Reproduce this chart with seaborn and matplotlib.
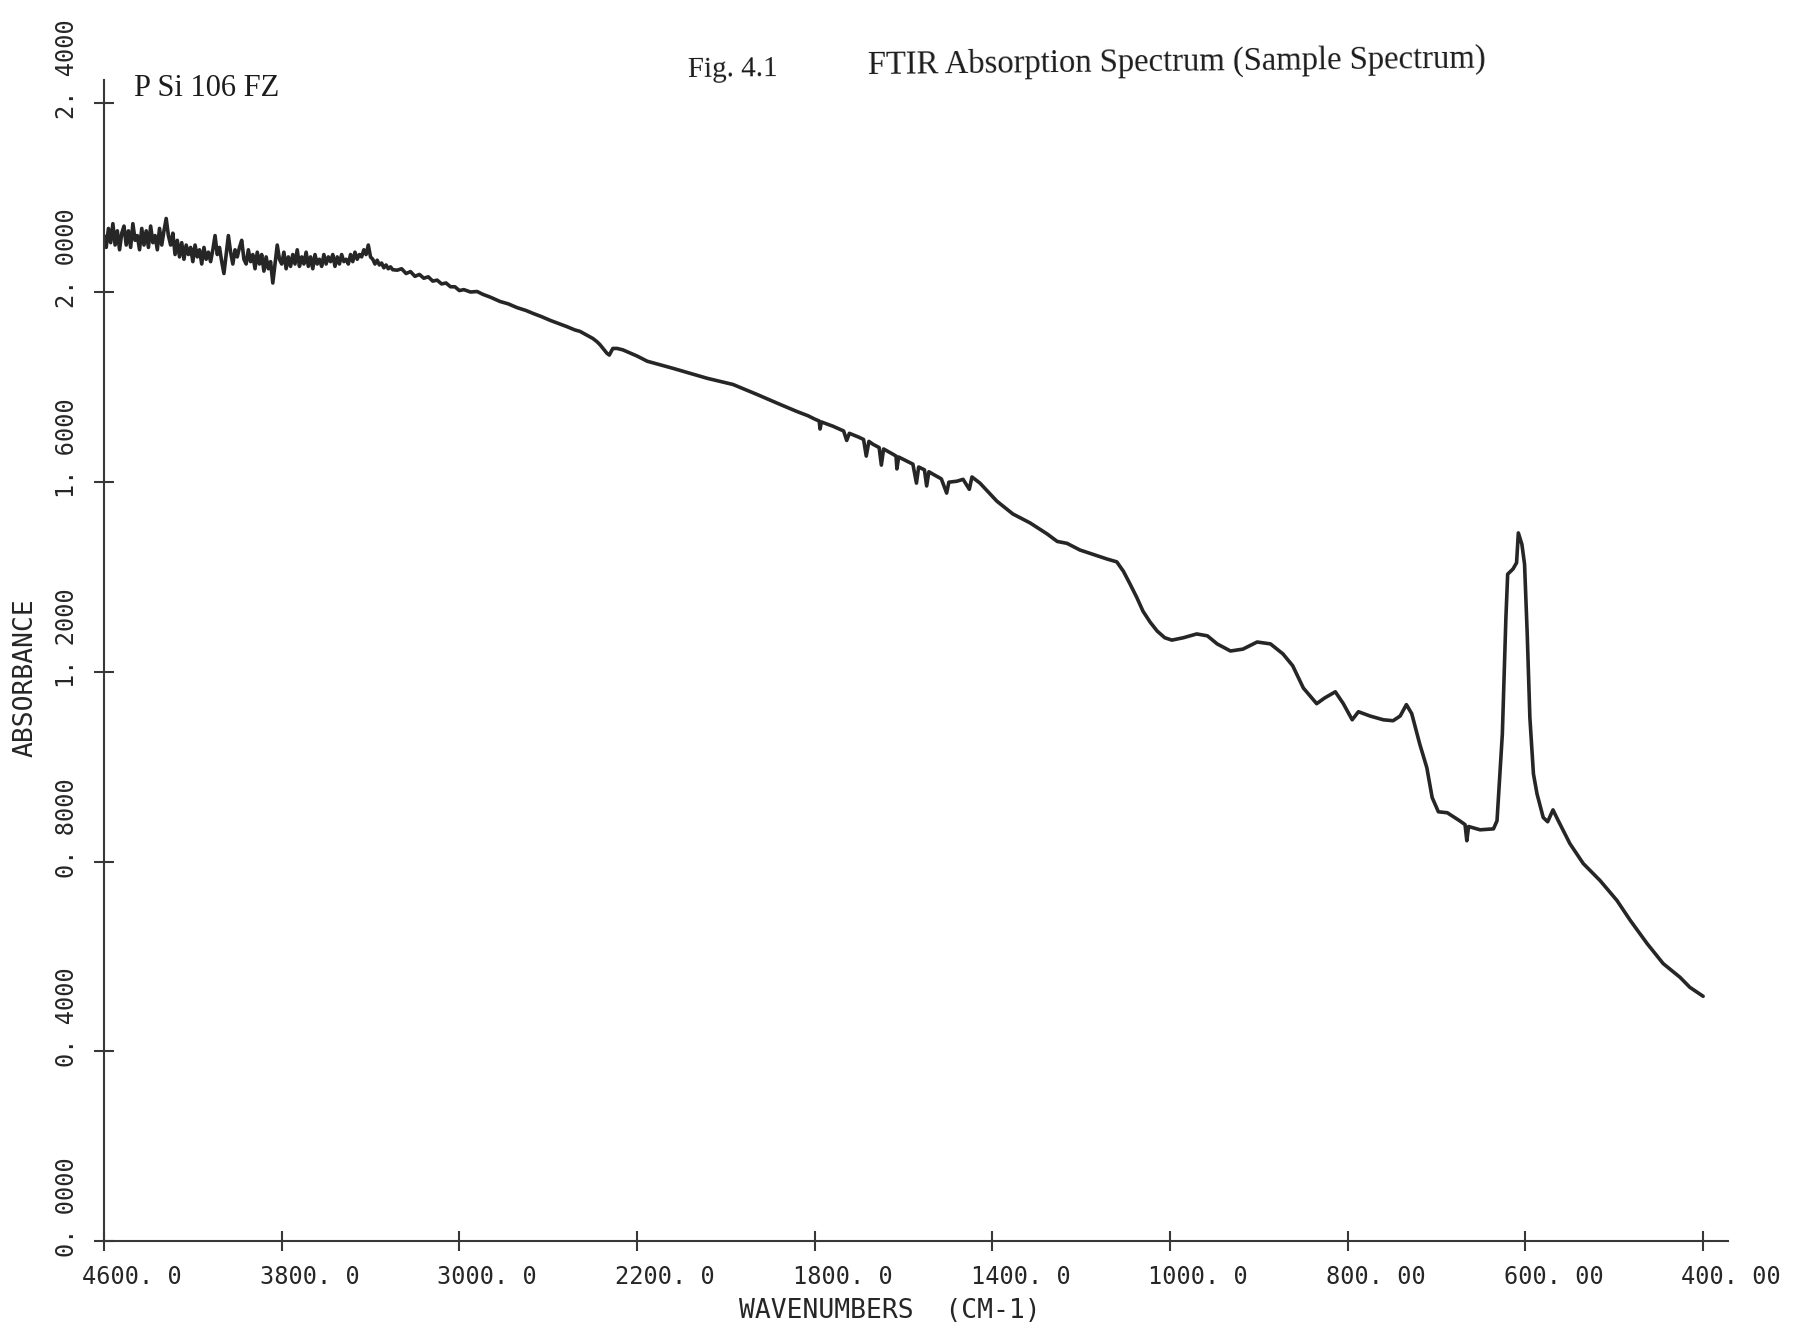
import numpy as np
import pandas as pd
import matplotlib
matplotlib.use("Agg")
import matplotlib.pyplot as plt
from matplotlib.transforms import ScaledTranslation
import seaborn as sns

# FTIR absorption spectrum, P Si 106 FZ sample (wavenumber in cm-1, absorbance)
# noisy high-wavenumber stretch, 10 cm-1 spacing
noisy_wavenumber = [
    4600, 4590, 4580, 4570, 4560, 4550, 4540, 4530, 4520, 4510,
    4500, 4490, 4480, 4470, 4460, 4450, 4440, 4430, 4420, 4410,
    4400, 4390, 4380, 4370, 4360, 4350, 4340, 4330, 4320, 4310,
    4300, 4290, 4280, 4270, 4260, 4250, 4240, 4230, 4220, 4210,
    4200, 4190, 4180, 4170, 4160, 4150, 4140, 4130, 4120, 4110,
    4100, 4090, 4080, 4070, 4060, 4050, 4040, 4030, 4020, 4010,
    4000, 3990, 3980, 3970, 3960, 3950, 3940, 3930, 3920, 3910,
    3900, 3890, 3880, 3870, 3860, 3850, 3840, 3830, 3820, 3810,
    3800, 3790, 3780, 3770, 3760, 3750, 3740, 3730, 3720, 3710,
    3700, 3690, 3680, 3670, 3660, 3650, 3640, 3630, 3620, 3610,
    3600, 3590, 3580, 3570, 3560, 3550, 3540, 3530, 3520, 3510,
    3500, 3490, 3480, 3470, 3460, 3450, 3440, 3430, 3420, 3410,
    3400, 3390, 3380, 3370, 3360, 3350, 3340, 3330, 3320, 3310,
    3300,
]
noisy_absorbance = [
    2.120, 2.095, 2.135, 2.105, 2.145, 2.100, 2.130, 2.090, 2.125, 2.140,
    2.100, 2.130, 2.095, 2.145, 2.110, 2.120, 2.090, 2.135, 2.100, 2.130,
    2.095, 2.140, 2.105, 2.120, 2.090, 2.135, 2.100, 2.130, 2.156, 2.120,
    2.100, 2.125, 2.080, 2.110, 2.075, 2.105, 2.070, 2.100, 2.080, 2.095,
    2.065, 2.100, 2.075, 2.090, 2.060, 2.095, 2.070, 2.085, 2.065, 2.090,
    2.120, 2.080, 2.095, 2.065, 2.040, 2.080, 2.120, 2.085, 2.060, 2.090,
    2.075, 2.095, 2.110, 2.070, 2.060, 2.090, 2.065, 2.080, 2.050, 2.085,
    2.060, 2.080, 2.045, 2.075, 2.050, 2.065, 2.020, 2.060, 2.100, 2.070,
    2.060, 2.085, 2.050, 2.075, 2.055, 2.080, 2.060, 2.090, 2.055, 2.075,
    2.060, 2.085, 2.055, 2.075, 2.050, 2.080, 2.060, 2.070, 2.055, 2.080,
    2.060, 2.075, 2.065, 2.080, 2.055, 2.075, 2.060, 2.080, 2.065, 2.070,
    2.060, 2.080, 2.065, 2.085, 2.070, 2.080, 2.075, 2.090, 2.080, 2.100,
    2.075, 2.070, 2.060, 2.068, 2.058, 2.062, 2.052, 2.058, 2.050, 2.054,
    2.048,
]
# remainder of the spectrum down to 400 cm-1
smooth_wavenumber = [
    3280, 3260, 3240, 3220, 3200, 3180, 3160, 3140, 3120, 3100,
    3080, 3060, 3040, 3020, 3000, 2980, 2950, 2920, 2894, 2860,
    2817, 2780, 2740, 2700, 2669, 2630, 2590, 2550, 2516, 2480,
    2457, 2430, 2399, 2380, 2367, 2350, 2336, 2325, 2309, 2290,
    2264, 2230, 2200, 2177, 2119, 2042, 1984, 1930, 1878, 1840,
    1815, 1800, 1790, 1788, 1785, 1759, 1735, 1728, 1722, 1701,
    1690, 1684, 1678, 1669, 1655, 1650, 1645, 1624, 1617, 1615,
    1611, 1590, 1579, 1571, 1566, 1553, 1548, 1543, 1534, 1515,
    1503, 1498, 1480, 1466, 1452, 1446, 1428, 1390, 1354, 1315,
    1277, 1254, 1232, 1203, 1174, 1142, 1120, 1105, 1090, 1075,
    1061, 1045, 1029, 1012, 998, 985, 970, 958, 947, 932,
    918, 902, 887, 873, 862, 850, 835, 826, 814, 805,
    795, 788, 775, 760, 749, 741, 734, 728, 719, 711,
    705, 698, 688, 674, 668, 666, 664, 651, 636, 632,
    626, 622, 620, 614, 610, 608, 604, 601, 598, 595,
    591, 587, 580, 575, 569, 563, 550, 535, 516, 497,
    482, 463, 445, 426, 415, 400,
]
smooth_absorbance = [
    2.047, 2.050, 2.040, 2.044, 2.034, 2.038, 2.030, 2.033, 2.024, 2.026,
    2.018, 2.020, 2.012, 2.012, 2.004, 2.006, 2.001, 2.002, 1.996, 1.990,
    1.981, 1.976, 1.968, 1.962, 1.956, 1.949, 1.941, 1.934, 1.928, 1.921,
    1.918, 1.911, 1.903, 1.896, 1.890, 1.880, 1.872, 1.868, 1.882, 1.882,
    1.879, 1.872, 1.866, 1.855, 1.840, 1.819, 1.806, 1.785, 1.764, 1.749,
    1.740, 1.733, 1.729, 1.712, 1.727, 1.718, 1.708, 1.688, 1.703, 1.695,
    1.690, 1.655, 1.686, 1.680, 1.673, 1.636, 1.670, 1.659, 1.655, 1.628,
    1.653, 1.643, 1.638, 1.598, 1.632, 1.626, 1.592, 1.622, 1.617, 1.607,
    1.577, 1.600, 1.602, 1.606, 1.585, 1.611, 1.598, 1.560, 1.533, 1.514,
    1.491, 1.475, 1.471, 1.457, 1.448, 1.438, 1.432, 1.412, 1.385, 1.357,
    1.328, 1.305, 1.286, 1.272, 1.267, 1.272, 1.280, 1.276, 1.259, 1.244,
    1.248, 1.263, 1.259, 1.238, 1.213, 1.166, 1.133, 1.145, 1.158, 1.133,
    1.099, 1.116, 1.107, 1.099, 1.097, 1.107, 1.131, 1.112, 1.048, 0.998,
    0.935, 0.905, 0.903, 0.886, 0.878, 0.844, 0.874, 0.867, 0.869, 0.886,
    1.069, 1.314, 1.406, 1.417, 1.430, 1.493, 1.469, 1.427, 1.280, 1.103,
    0.985, 0.943, 0.893, 0.884, 0.909, 0.886, 0.838, 0.796, 0.760, 0.718,
    0.676, 0.627, 0.585, 0.556, 0.535, 0.516,
]

x_ticks = [4600, 3800, 3000, 2200, 1800, 1400, 1000, 800, 600, 400]
x_tick_labels = ["4600. 0", "3800. 0", "3000. 0", "2200. 0", "1800. 0",
                 "1400. 0", "1000. 0", "800. 00", "600. 00", "400. 00"]
y_ticks = [0.0, 0.4, 0.8, 1.2, 1.6, 2.0, 2.4]
y_tick_labels = ["0. 0000", "0. 4000", "0. 8000", "1. 2000",
                 "1. 6000", "2. 0000", "2. 4000"]

# Plotter abscissa: 800 cm-1 per division above 2200, 400 down to 1000, 200 below
scale_wn = np.array([200.0, 1000.0, 2200.0, 4600.0, 5400.0])
scale_div = np.array([-10.0, -6.0, -3.0, 0.0, 1.0])


def to_div(w):
    return np.interp(w, scale_wn, scale_div)


def from_div(d):
    return np.interp(d, scale_div, scale_wn)


sns.set_style("white")
plt.rcParams["font.family"] = ["DejaVu Sans Mono", "DejaVu Sans"]

ink = "#262626"
axis_ink = "#383838"

fig = plt.figure(figsize=(18.18, 13.29), dpi=100)
ax = fig.add_axes([104 / 1818, 88 / 1329, 1624 / 1818, 1161 / 1329])

df = pd.DataFrame({
    "wavenumber": noisy_wavenumber + smooth_wavenumber,
    "absorbance": noisy_absorbance + smooth_absorbance,
})
sns.lineplot(data=df, x="wavenumber", y="absorbance", ax=ax, sort=False,
             estimator=None, color=ink, linewidth=2.6)

ax.set_xscale("function", functions=(to_div, from_div))

for side in ("top", "right"):
    ax.spines[side].set_visible(False)
for side in ("left", "bottom"):
    ax.spines[side].set_color(axis_ink)
    ax.spines[side].set_linewidth(1.5)

ax.set_xticks(x_ticks)
ax.set_xticklabels(x_tick_labels)
ax.set_yticks(y_ticks)
ax.set_yticklabels(y_tick_labels, rotation=90, va="bottom", ha="right")
ax.xaxis.set_minor_locator(matplotlib.ticker.NullLocator())
ax.yaxis.set_minor_locator(matplotlib.ticker.NullLocator())

ax.tick_params(axis="both", direction="inout", length=14.4, width=1.5,
               color=axis_ink, labelcolor=ink, bottom=True, left=True)
ax.tick_params(axis="x", labelsize=17, pad=10)
ax.tick_params(axis="y", labelsize=17, pad=11)

# wavenumbers decrease to the right
ax.set_xlim(4600, 372)
ax.set_ylim(0, 2.448)

ax.set_xlabel("WAVENUMBERS  (CM-1)", fontsize=19, color=ink, va="center")
ax.xaxis.set_label_coords(0.484, -0.060)
ax.set_ylabel("ABSORBANCE", fontsize=19, color=ink, va="center")
ax.yaxis.set_label_coords(-0.0486, 0.485)

# plotter labels sit to the right of the x ticks and start just below the y ticks
for lab in ax.get_xticklabels():
    lab.set_transform(lab.get_transform() + ScaledTranslation(0.28, 0, fig.dpi_scale_trans))
for lab in ax.get_yticklabels():
    lab.set_transform(lab.get_transform() + ScaledTranslation(0, -0.16, fig.dpi_scale_trans))

serif = ["Liberation Serif", "DejaVu Serif"]
text_ink = "#1c1c1c"
fig.text(134 / 1818, 1 - 96 / 1329, "P Si 106 FZ", family=serif, fontsize=22,
         color=text_ink, ha="left", va="baseline")
fig.text(688 / 1818, 1 - 77 / 1329, "Fig. 4.1", family=serif, fontsize=21,
         color=text_ink, ha="left", va="baseline", rotation=0.6, rotation_mode="anchor")
fig.text(868 / 1818, 1 - 74 / 1329, "FTIR Absorption Spectrum (Sample Spectrum)",
         family=serif, fontsize=23.5, color=text_ink, ha="left", va="baseline",
         rotation=0.6, rotation_mode="anchor")

fig.savefig("out.png", dpi=100, facecolor="white")
